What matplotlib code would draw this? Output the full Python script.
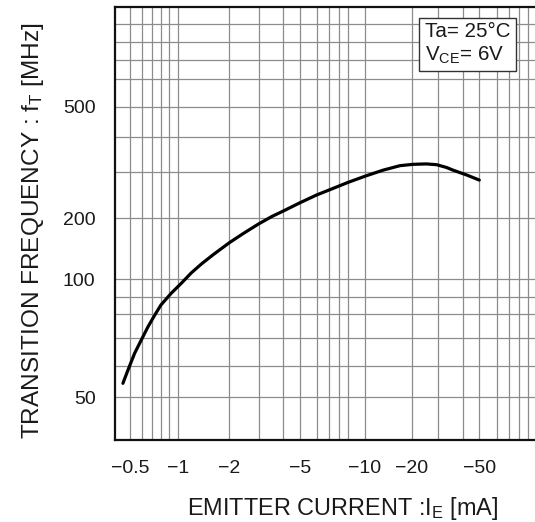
import numpy as np
import matplotlib
matplotlib.use("Agg")
import matplotlib.pyplot as plt
from matplotlib.ticker import FixedLocator, FixedFormatter, NullFormatter

# ---------------- data ----------------
emitter_current_mA = [-0.45, -0.485, -0.536, -0.592, -0.655, -0.726, -0.80, -0.921,
                      -1.042, -1.193, -1.367, -1.61, -2.0, -2.44, -3.0, -3.49, -4.0,
                      -5.0, -6.0, -7.38, -9.0, -10.1, -13.1, -16.75, -20.4, -25,
                      -29.4, -33, -35.7, -41.9, -50]
transition_freq_MHz = [54.2, 58.5, 64.3, 69.2, 74.5, 79.6, 85.2, 91.9,
                       97.5, 107.2, 118.5, 132, 151, 168.1, 186.8, 202.4, 212.8,
                       229, 245.4, 260.2, 274.3, 290.4, 305.4, 316.5, 320, 321,
                       319, 312, 305, 293, 280]

x_tick_values = [-0.5, -1, -2, -5, -10, -20, -50]
x_tick_labels = ["\u22120.5", "\u22121", "\u22122", "\u22125", "\u221210", "\u221220", "\u221250"]
y_tick_values = [50, 100, 200, 500]
y_tick_labels = ["50", "100", "200", "500"]

x_label = "EMITTER CURRENT :I$_\\mathregular{E}$ [mA]"
y_label = "TRANSITION FREQUENCY : f$_\\mathregular{T}$ [MHz]"
cond_text = "Ta= 25\u00b0C\nV$_\\mathregular{CE}$= 6V"

# ------------- the printed (slightly non-uniform) log grids of the datasheet -------------
# magnitudes of the emitter current grid (axis runs from -0.4 to -100 mA)
x_grid_vals = [0.4, 0.5, 0.6, 0.7, 0.8, 0.9, 1, 2, 3, 4, 5, 6, 7, 8, 9, 10,
               20, 30, 40, 50, 60, 70, 80, 90, 100]
x_grid_pos = [0, 15, 27.3, 37.3, 46, 54.3, 63.3, 114.3, 143.5, 168.3, 185, 201.7,
              214.3, 224.3, 233, 250, 297, 323, 348.3, 364.3, 381.7, 394, 404, 413, 421]
y_grid_vals = [40, 50, 60, 70, 80, 90, 100, 200, 300, 400, 500, 600, 700, 800, 900, 1000]
y_grid_pos = [0, 42.7, 74.3, 102.3, 125.7, 143.3, 161, 222, 267.7, 303.3, 333.3,
              360.7, 380, 397.7, 415.7, 433.3]

LX = np.log10(x_grid_vals)
PX = np.array(x_grid_pos, float)
LY = np.log10(y_grid_vals)
PY = np.array(y_grid_pos, float)


def _log(v):
    v = np.asarray(v, float)
    with np.errstate(divide="ignore", invalid="ignore"):
        return np.log10(np.clip(v, 1e-12, None))


def fwd_x(v):
    return np.interp(_log(v), LX, PX)


def inv_x(p):
    return 10 ** np.interp(np.asarray(p, float), PX, LX)


def fwd_y(v):
    return np.interp(_log(v), LY, PY)


def inv_y(p):
    return 10 ** np.interp(np.asarray(p, float), PY, LY)


plt.rcParams["font.family"] = ["Liberation Sans", "DejaVu Sans"]
plt.rcParams["mathtext.fontset"] = "custom"
plt.rcParams["mathtext.rm"] = "Liberation Sans"
plt.rcParams["mathtext.it"] = "Liberation Sans:italic"

W, H = 535, 522
fig = plt.figure(figsize=(W / 100, H / 100), dpi=100)
ax = fig.add_axes([115 / W, (H - 440) / H, 421 / W, 433.3 / H])

ax.set_xscale("function", functions=(fwd_x, inv_x))
ax.set_yscale("function", functions=(fwd_y, inv_y))

# the axis is drawn by current magnitude; labels carry the sign (negative emitter current)
current_mag = np.negative(emitter_current_mA)
ax.plot(current_mag, transition_freq_MHz, color="black", lw=2.3,
        solid_capstyle="round", solid_joinstyle="round", zorder=3)

ax.set_xlim(x_grid_vals[0], x_grid_vals[-1])
ax.set_ylim(y_grid_vals[0], y_grid_vals[-1])

grid_color = "#8c8c8c"
ax.xaxis.set_major_locator(FixedLocator(np.negative(x_tick_values)))
ax.xaxis.set_major_formatter(FixedFormatter(x_tick_labels))
ax.xaxis.set_minor_locator(FixedLocator(x_grid_vals[1:-1]))
ax.xaxis.set_minor_formatter(NullFormatter())
ax.yaxis.set_major_locator(FixedLocator(y_tick_values))
ax.yaxis.set_major_formatter(FixedFormatter(y_tick_labels))
ax.yaxis.set_minor_locator(FixedLocator(y_grid_vals[1:-1]))
ax.yaxis.set_minor_formatter(NullFormatter())

ax.grid(True, which="both", color=grid_color, lw=0.9)
ax.set_axisbelow(True)
ax.tick_params(which="both", length=0)
ax.tick_params(axis="x", pad=14.5, labelsize=14, colors="#1a1a1a")
ax.tick_params(axis="y", pad=14, labelsize=14, colors="#1a1a1a")

for side in ("left", "bottom", "top"):
    ax.spines[side].set_linewidth(1.6)
    ax.spines[side].set_color("#111111")
ax.spines["right"].set_visible(False)

fig.text(343 / W, 1 - 515 / H, x_label, ha="center", va="baseline",
         fontsize=16.9, color="#1a1a1a")
fig.text(33 / W, 1 - 231 / H, y_label, ha="center", va="center", rotation=90,
         fontsize=17.6, color="#1a1a1a")

ax.text((425 - 115) / 421, (440 - 22) / 433.3, cond_text, transform=ax.transAxes,
        ha="left", va="top", fontsize=14.8, color="#1a1a1a", linespacing=1.2,
        bbox=dict(boxstyle="square,pad=0.28", fc="white", ec="#333333", lw=1.0),
        zorder=5)

fig.savefig("out.png", dpi=100)
